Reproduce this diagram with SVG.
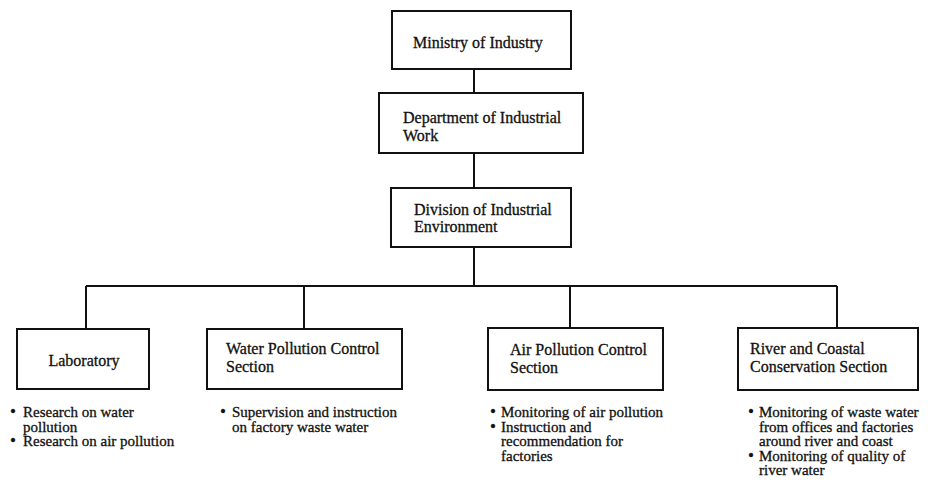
<svg xmlns="http://www.w3.org/2000/svg" width="928" height="493" viewBox="0 0 928 493">
<style>
.box{fill:#fff;stroke:#111;stroke-width:2}
.t{font-family:"Liberation Serif","Times New Roman",serif;font-size:16px;fill:#111;stroke:#111;stroke-width:0.3}
.b{font-family:"Liberation Serif","Times New Roman",serif;font-size:15px;fill:#111;stroke:#111;stroke-width:0.3}
.d{font-size:17px}
.c{fill:none;stroke:#111;stroke-width:2}
</style>
<rect width="928" height="493" fill="#fff"/>
<g id="connectors">
<path class="c" d="M474 69V93M474 153V188M474 247V286M86 286H837M86 286V329M304 286V329M570 286V328M837 286V328"/>
</g>
<g id="ministry">
<rect class="box" x="392" y="11" width="179" height="58"/>
<text class="t" x="413" y="48">Ministry of Industry</text>
</g>
<g id="department">
<rect class="box" x="379" y="93" width="204" height="60"/>
<text class="t" x="403" y="123">Department of Industrial</text>
<text class="t" x="403" y="141">Work</text>
</g>
<g id="division">
<rect class="box" x="391" y="188" width="180" height="59"/>
<text class="t" x="414" y="215">Division of Industrial</text>
<text class="t" x="414" y="232">Environment</text>
</g>
<g id="laboratory">
<rect class="box" x="17" y="329" width="132" height="60"/>
<text class="t" x="84" y="366" text-anchor="middle">Laboratory</text>
<text class="b" y="417"><tspan class="d" x="10">•</tspan><tspan x="23">Research on water</tspan></text>
<text class="b" x="23" y="431.5">pollution</text>
<text class="b" y="446"><tspan class="d" x="10">•</tspan><tspan x="23">Research on air pollution</tspan></text>
</g>
<g id="water">
<rect class="box" x="207" y="329" width="195" height="60"/>
<text class="t" x="226" y="354">Water Pollution Control</text>
<text class="t" x="226" y="372">Section</text>
<text class="b" y="417"><tspan class="d" x="220">•</tspan><tspan x="232">Supervision and instruction</tspan></text>
<text class="b" x="232" y="431.5">on factory waste water</text>
</g>
<g id="air">
<rect class="box" x="488" y="328" width="175" height="62"/>
<text class="t" x="510" y="355">Air Pollution Control</text>
<text class="t" x="510" y="373">Section</text>
<text class="b" y="417"><tspan class="d" x="490">•</tspan><tspan x="501">Monitoring of air pollution</tspan></text>
<text class="b" y="431.5"><tspan class="d" x="490">•</tspan><tspan x="501">Instruction and</tspan></text>
<text class="b" x="501" y="446">recommendation for</text>
<text class="b" x="501" y="460.5">factories</text>
</g>
<g id="river">
<rect class="box" x="738" y="328" width="180" height="62"/>
<text class="t" x="750" y="354">River and Coastal</text>
<text class="t" x="750" y="372">Conservation Section</text>
<text class="b" y="417"><tspan class="d" x="748">•</tspan><tspan x="759">Monitoring of waste water</tspan></text>
<text class="b" x="759" y="431.5">from offices and factories</text>
<text class="b" x="759" y="446">around river and coast</text>
<text class="b" y="460.5"><tspan class="d" x="748">•</tspan><tspan x="759">Monitoring of quality of</tspan></text>
<text class="b" x="759" y="475">river water</text>
</g>
</svg>
